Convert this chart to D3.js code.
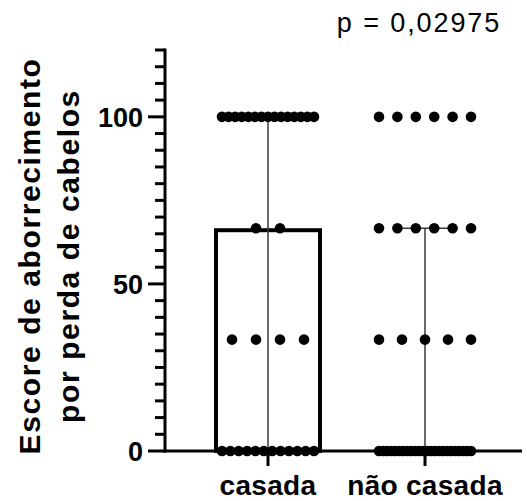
<!DOCTYPE html>
<html>
<head>
<meta charset="utf-8">
<script src="https://cdn.jsdelivr.net/npm/d3@7"></script>
<style>
  body { margin: 0; background: #fff; }
  text { font-family: "Liberation Sans", Arial, Helvetica, sans-serif; fill: #000; }
</style>
</head>
<body>
<svg id="chart" width="527" height="501"></svg>
<script>
// ---- data ----
const categories = ["casada", "não casada"];
const scoreLevels = [0, 33.33, 66.67, 100];
// number of respondents at each score level, per group
const casadaCounts = [12, 4, 2, 15];
const naoCasadaCounts = [24, 5, 6, 6];
// median bar and interquartile whiskers per group
const barMedian = [66.67, 0];
const whiskerLow = [0, 0];
const whiskerHigh = [100, 66.67];
const yTickValues = [0, 50, 100];
const yMinorStep = 5;
const yMax = 120;
const pValueLabel = "p = 0,02975";
const yTitleLines = ["Escore de aborrecimento", "por perda de cabelos"];

const groupCounts = [casadaCounts, naoCasadaCounts];

// ---- layout ----
const W = 527, H = 501;
const margin = { left: 165, top: 50, bottom: 50 };
const plotBottom = H - margin.bottom;

const svg = d3.select("#chart");

const y = d3.scaleLinear().domain([0, yMax]).range([plotBottom, margin.top]);
const x = d3.scalePoint().domain(categories).range([268, 425]);

const barWidth = 108;
const capWidth = 56;
const dotR = 5.3;
const maxSpread = 92;
const maxGap = 24;

// ---- bars (median) ----
const bars = categories.map((c, i) => ({ c, v: barMedian[i] })).filter(d => d.v > 0);
svg.append("g").selectAll("rect").data(bars).join("rect")
  .attr("x", d => x(d.c) - barWidth / 2 + 2)
  .attr("y", d => y(d.v) + 2)
  .attr("width", barWidth - 4)
  .attr("height", d => y(0) - y(d.v) - 2)
  .attr("fill", "#fff")
  .attr("stroke", "#000")
  .attr("stroke-width", 4);

// ---- whiskers ----
const wg = svg.append("g").attr("stroke", "#3a3a3a").attr("stroke-width", 1.5);
categories.forEach((c, i) => {
  wg.append("line")
    .attr("x1", x(c)).attr("x2", x(c))
    .attr("y1", y(whiskerLow[i])).attr("y2", y(whiskerHigh[i]));
  [whiskerLow[i], whiskerHigh[i]].forEach(v => {
    wg.append("line")
      .attr("x1", x(c) - capWidth / 2).attr("x2", x(c) + capWidth / 2)
      .attr("y1", y(v)).attr("y2", y(v));
  });
});

// ---- axes ----
const axisG = svg.append("g").attr("stroke", "#000").attr("stroke-width", 3);
axisG.append("line")
  .attr("x1", margin.left).attr("x2", margin.left)
  .attr("y1", y(yMax) - 1.5).attr("y2", y(0) + 1.5);
axisG.append("line")
  .attr("x1", margin.left - 1.5).attr("x2", 522)
  .attr("y1", y(0)).attr("y2", y(0));

const minorTicks = d3.range(0, yMax + 0.001, yMinorStep);
axisG.selectAll("line.ytick").data(minorTicks).join("line")
  .attr("class", "ytick")
  .attr("x1", d => yTickValues.includes(d) ? margin.left - 17 : margin.left - 10)
  .attr("x2", margin.left)
  .attr("y1", d => y(d)).attr("y2", d => y(d));

axisG.selectAll("line.xtick").data(categories).join("line")
  .attr("class", "xtick")
  .attr("x1", d => x(d)).attr("x2", d => x(d))
  .attr("y1", y(0)).attr("y2", y(0) + 15);

svg.append("g").selectAll("text").data(yTickValues).join("text")
  .attr("x", 143)
  .attr("y", d => y(d))
  .attr("dy", "0.36em")
  .attr("text-anchor", "end")
  .attr("font-size", 27)
  .attr("font-weight", "bold")
  .text(d => d);

svg.append("g").selectAll("text").data(categories).join("text")
  .attr("x", d => x(d))
  .attr("y", 495)
  .attr("text-anchor", "middle")
  .attr("font-size", 28)
  .attr("font-weight", "bold")
  .attr("letter-spacing", 0.3)
  .text(d => d);

// ---- scatter of individual scores ----
const dots = [];
categories.forEach((c, i) => {
  scoreLevels.forEach((lvl, j) => {
    const n = groupCounts[i][j];
    const gap = n > 1 ? Math.min(maxGap, maxSpread / (n - 1)) : 0;
    for (let k = 0; k < n; k++) {
      dots.push({ cx: x(c) + (k - (n - 1) / 2) * gap, v: lvl });
    }
  });
});
svg.append("g").selectAll("circle").data(dots).join("circle")
  .attr("cx", d => d.cx)
  .attr("cy", d => y(d.v))
  .attr("r", dotR)
  .attr("fill", "#000");

// ---- y title ----
const titleX = [40, 79];
yTitleLines.forEach((t, i) => {
  svg.append("text")
    .attr("transform", `translate(${titleX[i]},256) rotate(-90)`)
    .attr("text-anchor", "middle")
    .attr("font-size", 30)
    .attr("font-weight", "bold")
    .attr("letter-spacing", 1.6)
    .text(t);
});

// ---- p value ----
svg.append("text")
  .attr("x", 419)
  .attr("y", 32)
  .attr("text-anchor", "middle")
  .attr("font-size", 27)
  .attr("letter-spacing", 1.9)
  .text(pValueLabel);
</script>
</body>
</html>
